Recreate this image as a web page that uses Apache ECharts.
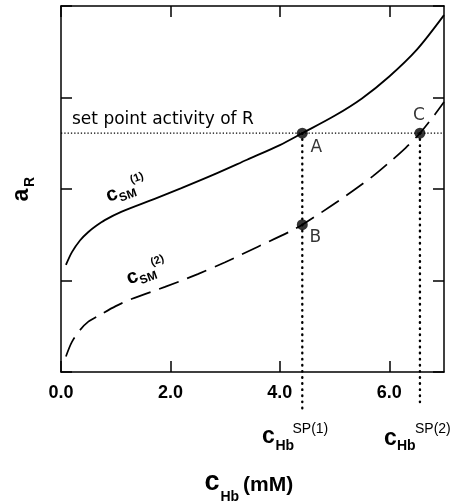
<!DOCTYPE html>
<html>
<head>
<meta charset="utf-8">
<script src="https://cdn.jsdelivr.net/npm/echarts@6/dist/echarts.min.js"></script>
<style>
  html, body { margin: 0; padding: 0; background: #fff; }
  #chart { width: 451px; height: 504px; }
</style>
</head>
<body>
<div id="chart"></div>
<script>
// Response curve for c_SM^(1): c_Hb (mM) vs a_R
const sm1X = [0.09, 0.2, 0.35, 0.5, 0.65, 0.8, 1.1, 1.7, 2.2, 2.8, 3.4, 4.0, 4.41, 5.0, 5.5, 6.0, 6.5, 7.0];
const sm1Y = [1.17, 1.31, 1.44, 1.53, 1.60, 1.66, 1.75, 1.89, 2.01, 2.16, 2.32, 2.48, 2.61, 2.80, 2.99, 3.23, 3.52, 3.90];

// Response curve for c_SM^(2)
const sm2X = [0.09, 0.2, 0.35, 0.5, 0.7, 1.0, 1.3, 1.9, 2.5, 3.0, 3.6, 4.2, 4.41, 5.05, 5.7, 6.0, 6.3, 6.56, 6.84, 7.0];
const sm2Y = [0.17, 0.33, 0.46, 0.55, 0.62, 0.72, 0.80, 0.93, 1.07, 1.20, 1.37, 1.54, 1.61, 1.86, 2.14, 2.29, 2.45, 2.61, 2.82, 2.95];

// Set point activity of R
const setPoint = 2.61;

// Operating points
const pointNames = ['A', 'B', 'C'];
const pointX = [4.41, 4.41, 6.56];
const pointY = [2.61, 1.61, 2.61];

// Drop lines from A and C down to c_Hb^SP(1) and c_Hb^SP(2)
const dropX = [4.41, 6.56];
const dropTop = [2.61, 2.61];
const dropBottom = [-0.44, -0.34];

// Axes
const xMin = 0, xMax = 7;
const yMin = 0, yMax = 4;
const xTicks = [0, 2, 4, 6];
const xTickLabels = ['0.0', '2.0', '4.0', '6.0'];

const zip = (xs, ys) => xs.map((x, i) => [x, ys[i]]);

const black = '#000';
const sans = '"Liberation Sans", Arial, sans-serif';
const dejavu = '"DejaVu Sans", sans-serif';

const frameLine = { show: true, onZero: false, lineStyle: { color: black, width: 1.5 } };
const innerTick = { show: true, inside: true, length: 11, lineStyle: { color: black, width: 1.5 } };

function xAxisDef(position, showLabels) {
  return {
    type: 'value', position, min: xMin, max: xMax, interval: 2,
    axisLine: frameLine,
    axisTick: Object.assign({ customValues: xTicks }, innerTick),
    axisLabel: showLabels ? {
      customValues: xTicks,
      formatter: v => { const i = xTicks.indexOf(v); return i < 0 ? '' : xTickLabels[i]; },
      color: black, fontFamily: sans, fontWeight: 'bold', fontSize: 18, margin: 12
    } : { show: false },
    splitLine: { show: false }
  };
}
function yAxisDef(position) {
  return {
    type: 'value', position, min: yMin, max: yMax, interval: 1,
    axisLine: frameLine, axisTick: innerTick,
    axisLabel: { show: false }, splitLine: { show: false }
  };
}

// Label placement around each operating point (pixels from the dot centre)
const labelOffsets = [[14, 14], [13, 13], [-1, -18]];

function txt(text, x, y, font, align) {
  return { type: 'text', style: { text, x, y, font, fill: black, align: align || 'left', verticalAlign: 'middle' } };
}

const chart = echarts.init(document.getElementById('chart'), null, { renderer: 'canvas' });
chart.setOption({
  animation: false,
  backgroundColor: '#fff',
  grid: { left: 61, right: 7, top: 6, bottom: 132 },
  xAxis: [xAxisDef('bottom', true), xAxisDef('top', false)],
  yAxis: [yAxisDef('left'), yAxisDef('right')],
  series: [
    {
      type: 'line', data: [[xMin, setPoint], [xMax, setPoint]], symbol: 'none', silent: true,
      lineStyle: { color: black, width: 1.3, type: [1.3, 2] }, z: 2
    },
    {
      type: 'line', data: zip(sm1X, sm1Y), smooth: 0.3, symbol: 'none',
      lineStyle: { color: black, width: 1.8 }, z: 3
    },
    {
      type: 'line', data: zip(sm2X, sm2Y), smooth: 0.3, symbol: 'none',
      lineStyle: { color: black, width: 1.7, type: [21, 9] }, z: 3
    },
    ...dropX.map((x, i) => ({
      type: 'line', data: [[x, dropTop[i]], [x, dropBottom[i]]], symbol: 'none', clip: false, silent: true,
      lineStyle: { color: black, width: 2.4, type: [0.5, 5.6], cap: 'round' }, z: 2
    })),
    {
      type: 'scatter', symbol: 'circle', symbolSize: 11, z: 5,
      itemStyle: { color: black },
      data: pointNames.map((n, i) => ({
        name: n, value: [pointX[i], pointY[i]],
        label: { offset: labelOffsets[i] }
      })),
      label: {
        show: true, position: 'inside', formatter: '{b}',
        color: black, fontFamily: dejavu, fontSize: 17
      }
    }
  ],
  graphic: [
    txt('set point activity of R', 72, 119.5, '17px ' + dejavu),
    {
      type: 'group', x: 112.5, y: 196.5, rotation: 20 * Math.PI / 180,
      children: [
        txt('c', 0, -1.8, 'bold 20px ' + sans, 'center'),
        txt('SM', 6, 4.4, 'bold 12px ' + sans),
        txt('(1)', 22.5, -9, 'bold 11px ' + sans)
      ]
    },
    {
      type: 'group', x: 133, y: 279, rotation: 20 * Math.PI / 180,
      children: [
        txt('c', 0, -1.8, 'bold 20px ' + sans, 'center'),
        txt('SM', 6, 4.4, 'bold 12px ' + sans),
        txt('(2)', 22.5, -9, 'bold 11px ' + sans)
      ]
    },
    txt('c', 268.5, 437, 'bold 23px ' + sans, 'center'),
    txt('Hb', 275.5, 446.5, 'bold 14px ' + sans),
    txt('SP(1)', 292.5, 429, '14px ' + sans),
    txt('c', 390.5, 438.5, 'bold 23px ' + sans, 'center'),
    txt('Hb', 397, 446.5, 'bold 14px ' + sans),
    txt('SP(2)', 415, 429.5, '14px ' + sans),
    txt('c', 212, 482.6, 'bold 27px ' + sans, 'center'),
    txt('Hb', 220.5, 497, 'bold 14px ' + sans),
    txt('(mM)', 243, 485, 'bold 21px ' + sans),
    {
      type: 'group', x: 24, y: 195, rotation: Math.PI / 2,
      children: [
        txt('a', 0, -2, 'bold 23px ' + sans, 'center'),
        txt('R', 13, 6, 'bold 14px ' + sans, 'center')
      ]
    }
  ]
});
</script>
</body>
</html>
